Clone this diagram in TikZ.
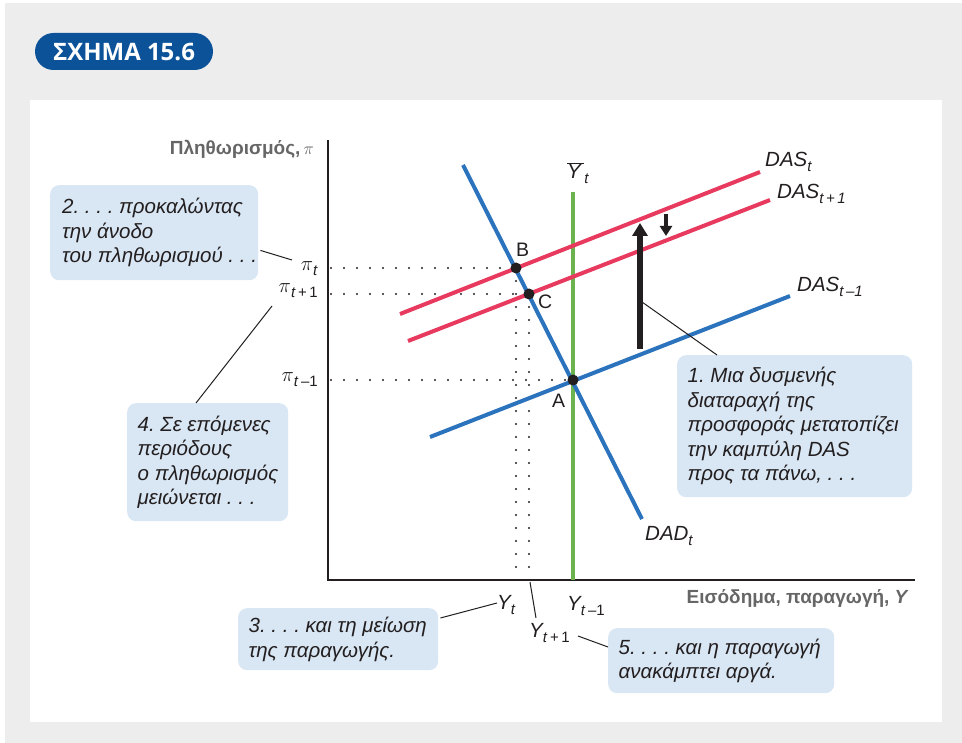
\documentclass[tikz,border=0pt]{standalone}
\usepackage{fontspec}
\setmainfont{Liberation Sans}
\newfontfamily\titlefont{Open Sans}
\usetikzlibrary{arrows.meta}
\definecolor{bggrey}{HTML}{EDEDED}
\definecolor{titleblue}{HTML}{0B5299}
\definecolor{boxblue}{HTML}{D9E6F3}
\definecolor{dasred}{HTML}{E83A5E}
\definecolor{dadblue}{HTML}{2B73BD}
\definecolor{ygreen}{HTML}{6CB24F}
\definecolor{labgrey}{HTML}{666666}
\definecolor{ink}{HTML}{231F20}
\newcommand\lsub[1]{\raisebox{-5pt}{\fontsize{15}{15}\selectfont #1}}
\newcommand\tplus{\textit{t}\,+\,1}
\newcommand\tminus{\textit{t}\,–1}
\frenchspacing
\begin{document}
\begin{tikzpicture}[x=1pt,y=-1pt,
  every node/.style={inner sep=0pt, text=ink},
  curve/.style={line width=4pt},
  axisline/.style={line width=1.3pt, ink},
  dotline/.style={line width=2.2pt, line cap=round, dash pattern=on 0pt off 13pt, ink},
  conn/.style={line width=1pt, ink},
  infobox/.style={fill=boxblue, rounded corners=9pt, anchor=north west},
  infotext/.style={anchor=west, align=left, font=\itshape\fontsize{20.5}{24.5}\selectfont},
  pt/.style={circle, fill=ink, minimum size=11pt},
  curvelab/.style={anchor=base west, font=\itshape\fontsize{20.5}{20.5}\selectfont},
  ticklab/.style={font=\fontsize{21}{21}\selectfont},
  ylab/.style={anchor=base west, font=\itshape\fontsize{20.5}{20.5}\selectfont},
  axislab/.style={font=\bfseries\fontsize{19}{19}\selectfont, text=labgrey},
  ptlab/.style={anchor=base west, font=\fontsize{19.5}{19.5}\selectfont}]
\useasboundingbox (0,0) rectangle (962,743);
\fill[white] (0,0) rectangle (962,743);
\fill[bggrey] (5,3) rectangle (962,743);
\fill[white] (30,100) rectangle (942,722);

% title
\node[fill=titleblue, rounded corners=18.5pt, minimum width=178pt, minimum height=37pt,
  text=white, font=\titlefont\bfseries\fontsize{24}{24}\selectfont] (title) at (124,51.5) {ΣΧΗΜΑ 15.6};

% axes
\coordinate (ytop) at (328,140);
\coordinate (O) at (328,580);
\coordinate (xend) at (915,580);
\draw[axisline] (ytop) -- (O) -- (xend);
\node[axislab, anchor=base east] (ylabel) at (314,155) {Πληθωρισμός,\,\textmd{$\pi$}};
\node[axislab, anchor=base east] (xlabel) at (909,603) {Εισόδημα, παραγωγή, \textit{Y}};

% points
\coordinate (B) at (516,268);
\coordinate (C) at (529,294);
\coordinate (A) at (573,380);
\coordinate (Bx) at (516,578);
\coordinate (Cx) at (529,578);
\coordinate (By) at (331,268);
\coordinate (Cy) at (331,294);
\coordinate (Ay) at (331,380);

% dotted guides
\draw[dotline] (By) -- (B);
\draw[dotline] (Cy) -- (C);
\draw[dotline] (Ay) -- (A);
\draw[dotline] (B) -- (Bx);
\draw[dotline] (C) -- (Cx);

% curves
\coordinate (g1) at (573,192); \coordinate (g2) at (573,580);
\coordinate (dad1) at (463,165); \coordinate (dad2) at (642,519);
\coordinate (ast1) at (400,314); \coordinate (ast2) at (760,172);
\coordinate (asn1) at (408,341); \coordinate (asn2) at (770,200);
\coordinate (asp1) at (430,437); \coordinate (asp2) at (790,296);
\draw[curve, ygreen] (g1) -- (g2);
\draw[curve, dadblue] (asp1) -- (asp2);
\draw[curve, dadblue] (dad1) -- (dad2);
\draw[curve, dasred] (ast1) -- (ast2);
\draw[curve, dasred] (asn1) -- (asn2);

\node[pt] (pB) at (B) {};
\node[pt] (pC) at (C) {};
\node[pt] (pA) at (A) {};
\node[ptlab] (lB) at (516,257) {B};
\node[ptlab] (lC) at (538,309) {C};
\node[ptlab] (lA) at (552,408) {A};

% curve labels
\node[curvelab] (lDASt) at (765,167) {DAS\lsub{t}};
\node[curvelab] (lDASn) at (777,199) {DAS\lsub{\tplus}};
\node[curvelab] (lDASp) at (797,292) {DAS\lsub{\tminus}};
\node[curvelab] (lDAD) at (645,540) {DAD\lsub{t}};
\node[curvelab] (lYbar) at (567,179) {$\overline{\mbox{\itshape Y\,}}$\lsub{t}};

% tick labels
\node[ticklab, anchor=base east] (pit) at (318,271) {$\pi$\lsub{\textit{t}}};
\node[ticklab, anchor=base east] (pin) at (318,293) {$\pi$\lsub{\tplus}};
\node[ticklab, anchor=base east] (pip) at (318,382) {$\pi$\lsub{\tminus}};
\node[ylab] (Yt) at (497,609) {Y\lsub{t}};
\node[ylab] (Yp) at (567,610) {Y\lsub{\upshape\tminus}};
\node[ylab] (Yn) at (529,637) {Y\lsub{\upshape\tplus}};

% arrows
\coordinate (up1) at (640,349); \coordinate (up2) at (640,223);
\coordinate (dn1) at (666,214); \coordinate (dn2) at (666,236);
\draw[line width=6pt, ink, -{Triangle[width=15pt,length=13pt]}] (up1) -- (up2);
\draw[line width=4.5pt, ink, -{Triangle[width=12pt,length=10pt]}] (dn1) -- (dn2);

% boxes
\node[infobox, minimum width=208pt, minimum height=95pt] (box2) at (50,185) {};
\node[infotext] (t2) at ([xshift=12pt]box2.west)
  {2. . . . προκαλώντας\\την άνοδο\\του πληθωρισμού . . .};
\node[infobox, minimum width=161pt, minimum height=118pt] (box4) at (127,403) {};
\node[infotext] (t4) at ([xshift=10.5pt]box4.west)
  {4. Σε επόμενες\\περιόδους\\ο πληθωρισμός\\μειώνεται . . .};
\node[infobox, minimum width=235pt, minimum height=142pt] (box1) at (677,355) {};
\node[infotext] (t1) at ([xshift=10.5pt]box1.west)
  {1. Μια δυσμενής\\διαταραχή της\\προσφοράς μετατοπίζει\\την καμπύλη DAS\\προς τα πάνω, . . .};
\node[infobox, minimum width=200pt, minimum height=62pt] (box3) at (238,608) {};
\node[infotext] (t3) at ([xshift=10.5pt]box3.west)
  {3. . . . και τη μείωση\\της παραγωγής.};
\node[infobox, minimum width=226pt, minimum height=65pt] (box5) at (608,628) {};
\node[infotext] (t5) at ([xshift=10.5pt]box5.west)
  {5. . . . και η παραγωγή\\ανακάμπτει αργά.};

% connectors
\coordinate (k2b) at (292,260);
\draw[conn] ([shift={(2,-30)}]box2.south east) -- (k2b);
\coordinate (k4b) at (272,306);
\draw[conn] (box4.north -| 196,0) -- (k4b);
\coordinate (k1a) at (642,302);
\draw[conn] (k1a) -- (box1.north -| 717,0);
\coordinate (k3b) at (497,603);
\draw[conn] ([shift={(2,10)}]box3.north east) -- (k3b);
\coordinate (kYa) at (530,582); \coordinate (kYb) at (536,618);
\draw[conn] (kYa) -- (kYb);
\coordinate (k5a) at (578,636);
\draw[conn] (k5a) -- ([shift={(0,19)}]box5.north west);
\end{tikzpicture}
\end{document}
